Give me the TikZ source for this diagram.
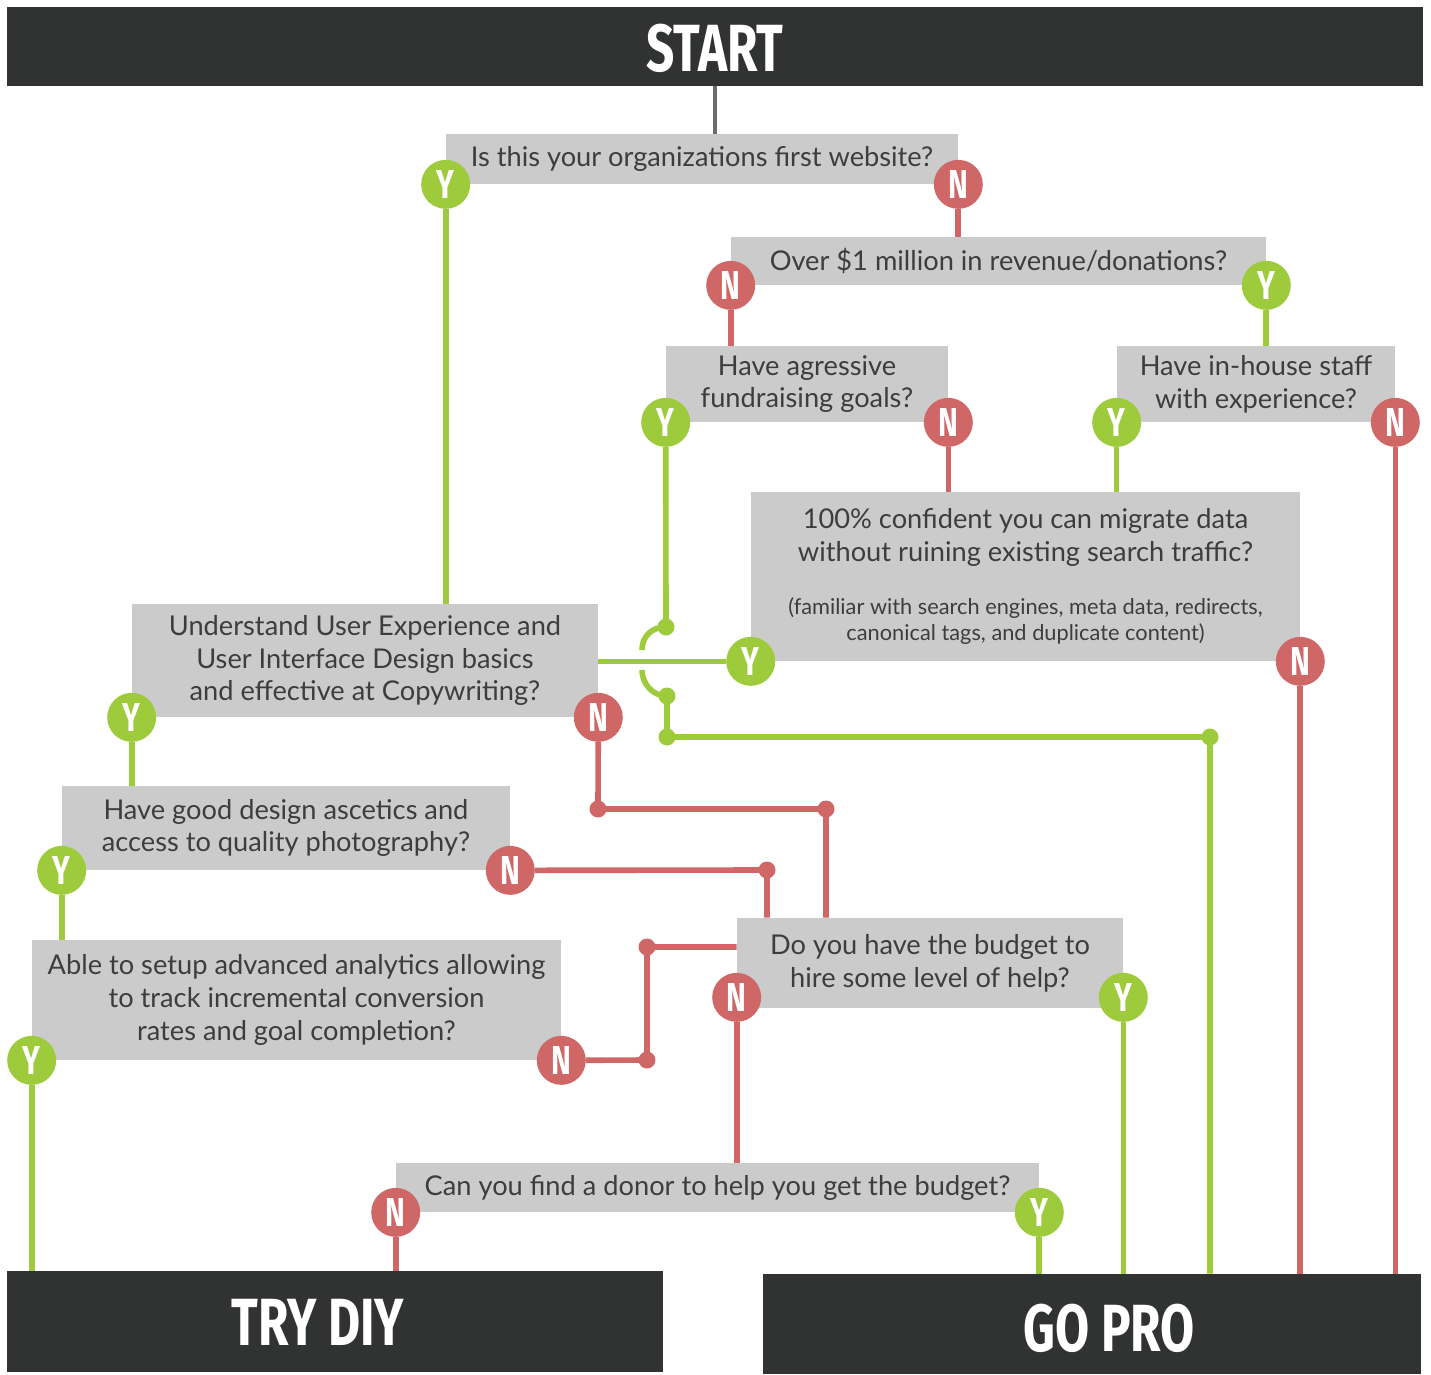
\documentclass[tikz,border=0pt]{standalone}
\usepackage{fontspec}
\setmainfont{Lato}
\newfontfamily\headfont[FakeStretch=0.74]{Fira Sans}
\usepackage{xcolor}
\usetikzlibrary{positioning,backgrounds}
\definecolor{bardark}{HTML}{313332}
\definecolor{boxgray}{HTML}{CBCBCB}
\definecolor{txtgray}{HTML}{3D3D3D}
\definecolor{yesgreen}{HTML}{9DCB3C}
\definecolor{nored}{HTML}{CF6767}
\definecolor{stemgray}{HTML}{6B6B6B}
\tikzset{
  qbox/.style n args={2}{fill=boxgray, text=txtgray, align=center, inner sep=0pt,
    minimum width=#1cm, minimum height=#2cm, font=\fontsize{15.5}{18.6}\selectfont},
  bar/.style n args={2}{fill=bardark, inner sep=0pt, minimum width=#1cm, minimum height=#2cm},
  headtext/.style={text=white, inner sep=0pt, font=\headfont\bfseries\fontsize{38}{40}\selectfont},
  badge/.style={circle, minimum size=0.98cm, inner sep=0pt, text=white,
    font=\headfont\bfseries\fontsize{23}{24}\selectfont},
  badgeY/.style={badge, fill=yesgreen},
  badgeN/.style={badge, fill=nored},
  yline/.style={draw=yesgreen, line width=3.2pt},
  nline/.style={draw=nored, line width=3.2pt},
  stem/.style={draw=stemgray, line width=2.3pt}
}

\begin{document}
\begin{tikzpicture}[x=0.02cm, y=-0.02cm]
  \useasboundingbox (0,0) rectangle (1431,1374);

  \node[bar={28.32}{1.58}] (start) at (715,46.5) {};
  \node[headtext] (starttext) at (715,48) {START};
  \node[bar={13.12}{2.02}] (diy) at (335,1321.5) {};
  \node[headtext] (diytext) at (318,1322) {TRY DIY};
  \node[bar={13.16}{2.0}] (gopro) at (1092,1324) {};
  \node[headtext] (gotext) at (1109,1328) {GO PRO};

  \node[qbox={10.24}{1.0}] (q1) at (702,159) {Is this your organizations first website?};
  \node[qbox={10.7}{0.96}] (q2) at (998.5,261) {Over \$1 million in revenue/donations?};
  \node[qbox={5.64}{1.52}] (q3) at (807,384) {Have agressive\\fundraising goals?};
  \node[qbox={5.56}{1.52}] (q4) at (1256,384) {Have in-house staff\\with experience?};
  \node[qbox={10.98}{3.38}] (q5) at (1025.5,576.5) {100\% confident you can migrate data\\without ruining existing search traffic?\\[11.5pt]
    \fontsize{12.4}{14}\selectfont (familiar with search engines, meta data, redirects,\\[-3.6pt]
    \fontsize{12.4}{14}\selectfont canonical tags, and duplicate content)};
  \node[qbox={9.32}{2.26}] (q6) at (365,660.5) {Understand User Experience and\\User Interface Design basics\\and effective at Copywriting?};
  \node[qbox={8.96}{1.68}] (q7) at (286,828) {Have good design ascetics and\\access to quality photography?};
  \node[qbox={10.58}{2.4}] (q8) at (296.5,1000) {Able to setup advanced analytics allowing\\to track incremental conversion\\rates and goal completion?};
  \node[qbox={7.72}{1.8}] (q9) at (930,963) {Do you have the budget to\\hire some level of help?};
  \node[qbox={12.86}{0.98}] (q10) at (717.5,1187.5) {Can you find a donor to help you get the budget?};

  \foreach \q/\l/\r/\s in {q1/Y/N/0pt, q2/N/Y/0pt, q3/Y/N/0pt, q4/Y/N/0pt, q5/Y/N/0pt,
      q6/Y/N/0pt, q7/Y/N/0pt, q8/Y/N/0pt, q9/N/Y/0.22cm, q10/N/Y/0pt}{
    \node[badge\l] (\q\l) at ([yshift=\s]\q.south west) {\l};
    \node[badge\r] (\q\r) at ([yshift=\s]\q.south east) {\r};
  }

  \coordinate (h1) at (666,627);
  \coordinate (h2) at (667,696);
  \coordinate (h3) at (667,737);
  \coordinate (h4) at (1210,737);
  \coordinate (r1) at (598,809);
  \coordinate (r2) at (826,809);
  \coordinate (r3) at (767,870);
  \coordinate (r4) at (647,1060);
  \coordinate (r5) at (647,947);

  \begin{scope}[on background layer]
    \draw[stem] (start.south) -- (start.south |- q1.north);
    \draw[nline] (q1N) -- (q1N |- q2.north);
    \draw[yline] (q1Y) -- (q1Y |- q6.north);
    \draw[nline] (q2N) -- (q2N |- q3.north);
    \draw[yline] (q2Y) -- (q2Y |- q4.north);
    \draw[nline] (q3N) -- (q3N |- q5.north);
    \draw[yline] (q4Y) -- (q4Y |- q5.north);
    \draw[nline] (q4N) -- (q4N |- gopro.north);
    \draw[nline] (q5N) -- (q5N |- gopro.north);
    \draw[yline] (q5Y) -- (q5Y -| q6.east);
    \draw[yline] (q3Y) -- (h1) .. controls (651,627) and (642,637) .. (642,650);
    \draw[yline] (642,670) .. controls (642,683) and (652,696) .. (h2) -- (h3) -- (h4) -- (h4 |- gopro.north);
    \draw[yline] (q6Y) -- (q6Y |- q7.north);
    \draw[nline] (q6N) -- (r1) -- (r2) -- (r2 |- q9.north);
    \draw[yline] (q7Y) -- (q7Y |- q8.north);
    \draw[nline] (q7N) -- (r3) -- (r3 |- q9.north);
    \draw[yline] (q8Y) -- (q8Y |- diy.north);
    \draw[nline] (q8N) -- (r4) -- (r5) -- (r5 -| q9.west);
    \draw[nline] (q9N) -- (q9N |- q10.north);
    \draw[yline] (q9Y) -- (q9Y |- gopro.north);
    \draw[nline] (q10N) -- (q10N |- diy.north);
    \draw[yline] (q10Y) -- (q10Y |- gopro.north);
  \end{scope}
  \foreach \c in {h1,h2,h3,h4} \fill[yesgreen] (\c) circle[radius=8.5];
  \foreach \c in {r1,r2,r3,r4,r5} \fill[nored] (\c) circle[radius=8.5];
\end{tikzpicture}
\end{document}
